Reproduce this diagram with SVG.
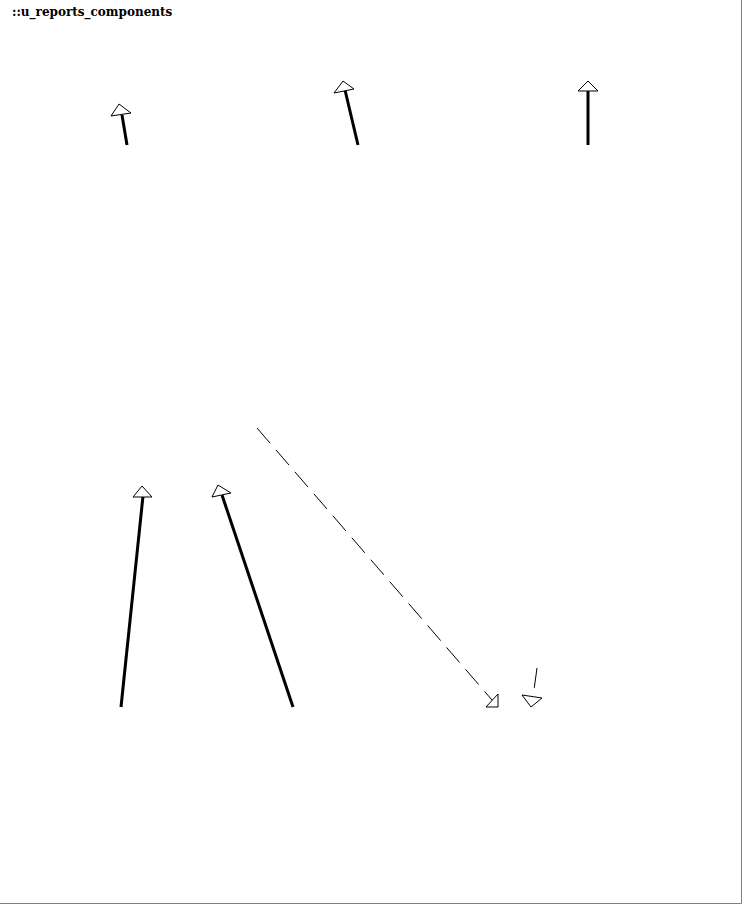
<svg xmlns="http://www.w3.org/2000/svg" width="742" height="904" viewBox="0 0 742 904">
<style>
.t{font-family:"DejaVu Serif","Liberation Serif",serif;font-weight:bold;font-size:12px;fill:#000}
.s{stroke:#000;stroke-width:3;fill:none}
.d{stroke:#000;stroke-width:1;fill:none;stroke-dasharray:20,9}
.h{stroke:#000;stroke-width:1;fill:#fff}
.b{stroke:#808080;stroke-width:1;fill:none}
</style>
<rect width="742" height="904" fill="#fff"/>
<path class="b" d="M741.5,0V903.5H0"/>
<g id="title"><text class="t" x="12" y="16">::u_reports_components</text></g>
<g id="connectors">
<line class="s" x1="127" y1="145" x2="122" y2="115"/>
<polygon class="h" points="119,104 111,116 131,113"/>
<line class="s" x1="358" y1="145" x2="345" y2="90"/>
<polygon class="h" points="343,81 334,93 354,89"/>
<line class="s" x1="588" y1="145" x2="588" y2="91"/>
<polygon class="h" points="588,81 578,91 598,91"/>
<line class="s" x1="121" y1="707" x2="143" y2="496"/>
<polygon class="h" points="142,486 133,497 152,497"/>
<line class="s" x1="293" y1="707" x2="222" y2="495"/>
<polygon class="h" points="218,485 212,497 231,493"/>
<line class="d" x1="257" y1="428" x2="492" y2="700"/>
<polygon class="h" points="498,707 486,707 498,694"/>
<line class="d" x1="537" y1="668" x2="533" y2="697"/>
<polygon class="h" points="531,707 522,695 542,698"/>
</g>
</svg>
